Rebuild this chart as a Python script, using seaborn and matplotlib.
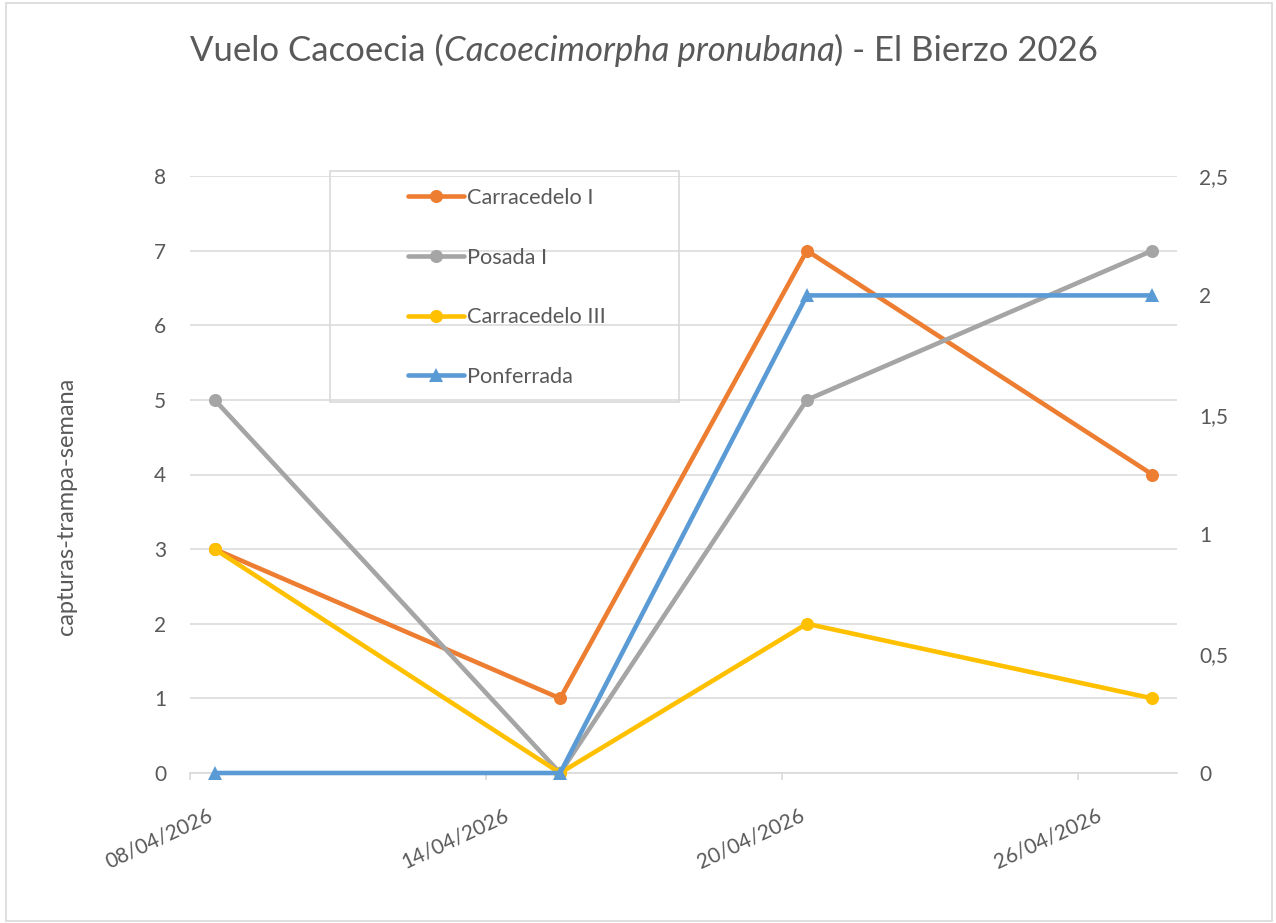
import matplotlib
matplotlib.use("Agg")
import matplotlib.pyplot as plt
import matplotlib.transforms as mtransforms
from matplotlib.patches import Rectangle
from matplotlib.lines import Line2D
import seaborn as sns
import pandas as pd

# ---- data ----
dates = ["2026-04-08", "2026-04-15", "2026-04-20", "2026-04-27"]
carracedelo_i = [3, 1, 7, 4]
posada_i = [5, 0, 5, 7]
carracedelo_iii = [3, 0, 2, 1]
ponferrada = [0, 0, 2, 2]          # right axis
series_names = ["Carracedelo I", "Posada I", "Carracedelo III", "Ponferrada"]
x_ticks = ["2026-04-08", "2026-04-14", "2026-04-20", "2026-04-26"]
left_ticks = [0, 1, 2, 3, 4, 5, 6, 7, 8]
right_ticks = [0, 0.5, 1, 1.5, 2, 2.5]
right_tick_labels = ["0", "0,5", "1", "1,5", "2", "2,5"]

colors = ["#ED7D31", "#A5A5A5", "#FFC000", "#5B9BD5"]
TXT = "#595959"
GRID = "#D9D9D9"

sns.set_theme(style="white")
FONT = ["Lato", "DejaVu Sans"]
plt.rcParams["font.family"] = FONT

W, H = 1276, 923
fig = plt.figure(figsize=(W/100, H/100), dpi=100)
ax = fig.add_axes([190/W, 1-773/H, (1177-190)/W, (773-176)/H])
ax2 = ax.twinx()

# Excel date axis places points between tick marks (half-day offset)
xd = pd.to_datetime(dates) + pd.Timedelta(hours=12)
df = pd.DataFrame({"fecha": xd, series_names[0]: carracedelo_i,
                   series_names[1]: posada_i, series_names[2]: carracedelo_iii,
                   series_names[3]: ponferrada})

lw = 3.3
ms = 9.4
for name, c in zip(series_names[:3], colors[:3]):
    sns.lineplot(data=df, x="fecha", y=name, ax=ax, color=c, linewidth=lw,
                 marker="o", markersize=ms, markeredgewidth=0, zorder=3,
                 solid_capstyle="round")
sns.lineplot(data=df, x="fecha", y=series_names[3], ax=ax2, color=colors[3],
             linewidth=lw, marker="^", markersize=10, markeredgewidth=0,
             zorder=3, solid_capstyle="round")
for a in (ax, ax2):
    for ln in a.lines:
        ln.set_clip_on(False)

ax2.patch.set_visible(False)

ax.set_xlim(pd.Timestamp("2026-04-08"), pd.Timestamp("2026-04-28"))
ax.set_ylim(0, 8)
ax2.set_ylim(0, 2.5)

ax.set_yticks(left_ticks)
ax.set_yticklabels([str(v) for v in left_ticks])
ax2.set_yticks(right_ticks)
ax2.set_yticklabels(right_tick_labels)

ax.set_xticks(pd.to_datetime(x_ticks))
ax.set_xticklabels(pd.to_datetime(x_ticks).strftime("%d/%m/%Y"))

for a in (ax, ax2):
    for s in a.spines.values():
        s.set_visible(False)
    a.set_xlabel("")
    a.set_ylabel("")

ax.spines["bottom"].set_visible(True)
ax.spines["bottom"].set_color(GRID)
ax.spines["bottom"].set_linewidth(1.2)
ax.grid(axis="y", color=GRID, linewidth=1.1)
ax.grid(axis="x", visible=False)
ax2.grid(False)

TS = 15
ax.tick_params(axis="y", length=0, labelsize=TS, labelcolor=TXT, pad=17)
ax2.tick_params(axis="y", length=0, labelsize=TS, labelcolor=TXT, pad=16)
ax.tick_params(axis="x", direction="out", length=5, width=1.2, color=GRID,
               labelsize=TS, labelcolor=TXT, pad=18, bottom=True)

offset = mtransforms.ScaledTranslation(-31/100, 0, fig.dpi_scale_trans)
for lab in ax.get_xticklabels():
    lab.set_rotation(25)
    lab.set_ha("center")
    lab.set_va("top")
    lab.set_transform(lab.get_transform() + offset)

fig.text(66/W, 1-506/H, "capturas-trampa-semana", rotation=90,
         ha="center", va="center", fontsize=17, color=TXT)

# legend (frame drawn separately)
LS = 15.7
handles = [Line2D([0], [0], color=c, linewidth=lw, marker=m, markersize=s,
                  markeredgewidth=0, solid_capstyle="round")
           for c, m, s in zip(colors, ["o", "o", "o", "^"], [ms, ms, ms, 10])]
leg = fig.legend(handles, series_names, loc="upper left",
                 bbox_to_anchor=(408/W, 1-188/H), frameon=False,
                 fontsize=LS, labelspacing=1.82, handlelength=2.57,
                 handletextpad=0.14, borderpad=0, borderaxespad=0,
                 labelcolor=TXT)
fig.add_artist(Rectangle((330/W, 1-402/H), 349/W, 231/H,
                         transform=fig.transFigure, fill=False,
                         edgecolor=GRID, linewidth=1.2))

# title with italic part
fig.canvas.draw()
parts = [("Vuelo Cacoecia (", "normal"), ("Cacoecimorpha pronubana", "italic"),
         (") - El Bierzo 2026", "normal")]
tsize = 25
texts = [fig.text(0, 0, s, fontsize=tsize, color=TXT, style=st, ha="left",
                  va="baseline") for s, st in parts]
renderer = fig.canvas.get_renderer()
widths = [t.get_window_extent(renderer).width for t in texts]
x = 644 - sum(widths) / 2
for t, w in zip(texts, widths):
    t.set_transform(mtransforms.IdentityTransform())
    t.set_position((x, H - 61))
    x += w

fig.add_artist(Rectangle((6/W, 2/H), 1266/W, 918/H,
                         transform=fig.transFigure, fill=False,
                         edgecolor=GRID, linewidth=1.2))

fig.savefig("out.png", dpi=100, facecolor="white")
